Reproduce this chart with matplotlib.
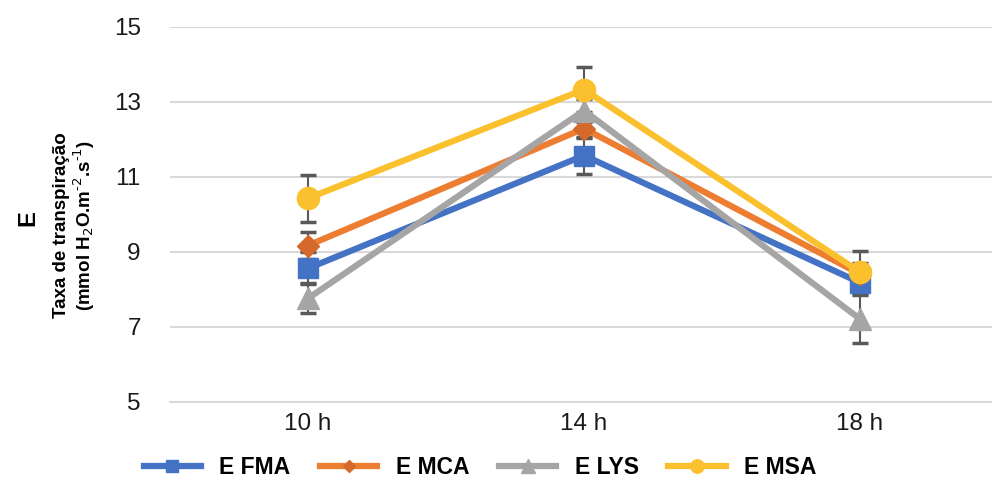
import numpy as np
import matplotlib.pyplot as plt

plt.rcParams['font.family'] = ['Liberation Sans', 'DejaVu Sans']

# data
hours = ['10 h', '14 h', '18 h']
fma = [8.55, 11.56, 8.17]
mca = [9.16, 12.28, 8.40]
lys = [7.75, 12.76, 7.20]
msa = [10.42, 13.32, 8.45]
fma_err = [0.43, 0.48, 0.25]
mca_err = [0.35, 0.25, 0.30]
lys_err = [0.40, 0.30, 0.65]
msa_err = [0.63, 0.60, 0.56]

series = [
    ('E FMA', fma, fma_err, '#4472C4', '#4472C4', 's', 15),
    ('E MCA', mca, mca_err, '#ED7D31', '#D4692B', 'D', 11),
    ('E LYS', lys, lys_err, '#A5A5A5', '#A5A5A5', '^', 16),
    ('E MSA', msa, msa_err, '#FBC02D', '#FBC02D', 'o', 16),
]

fig = plt.figure(figsize=(9.92, 4.82), dpi=100)
ax = fig.add_axes([170 / 992, 80.5 / 482, 828 / 992, 375 / 482])

x = np.arange(len(hours))
for name, vals, err, col, mcol, mk, ms in series:
    ax.errorbar(x, vals, yerr=err, fmt='none', ecolor='#595959',
                elinewidth=1.5, capsize=6, capthick=2.5, zorder=2)
    ax.plot(x, vals, color=col, lw=4.5, marker=mk, markersize=ms,
            markerfacecolor=mcol, markeredgecolor=mcol, label=name, zorder=3)

ax.set_xlim(-0.5, 2.5)
ax.set_ylim(5, 15)
ax.set_yticks([5, 7, 9, 11, 13, 15])
ax.set_xticks(x)
ax.set_xticklabels(hours)
ax.tick_params(labelsize=17.5, length=0, colors='#1a1a1a', pad=8)
ax.tick_params(axis='y', pad=21)
ax.grid(axis='y', color='#D9D9D9', lw=1.5)
ax.set_axisbelow(True)
for s in ['top', 'right', 'left']:
    ax.spines[s].set_visible(False)
ax.spines['bottom'].set_color('#D9D9D9')
ax.spines['bottom'].set_linewidth(1.5)

fig.text(75 / 992, 1 - 225 / 482,
         'Taxa de transpiração\n(mmol H$_2$O.m$^{\\text{-}2}$.s$^{\\text{-}1}$)',
         rotation=90, ha='center', va='center', fontsize=13.5, fontweight='bold',
         linespacing=1.05)
fig.text(28 / 992, 1 - 218 / 482, 'E', rotation=90, ha='center', va='center',
         fontsize=17, fontweight='bold')

fig.legend(loc='center', bbox_to_anchor=(480 / 992, 1 - 468 / 482), ncol=4,
           frameon=False, prop={'size': 16.5, 'weight': 'bold'},
           handlelength=2.5, handletextpad=0.8, columnspacing=1.3,
           markerscale=0.6)

fig.savefig('out.png', dpi=100)
